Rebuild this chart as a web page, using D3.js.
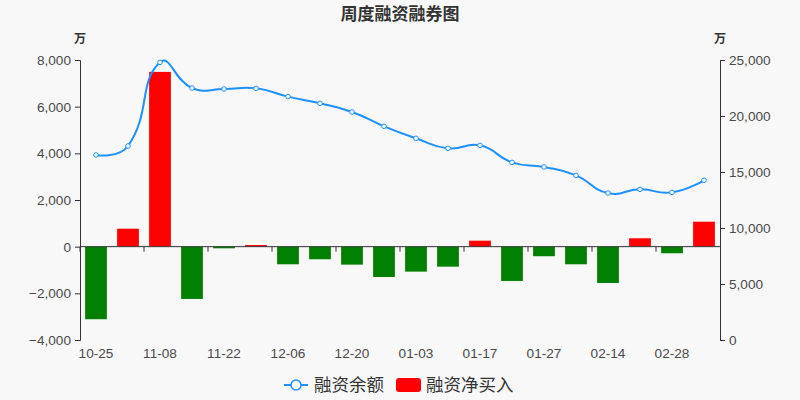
<!DOCTYPE html>
<html><head><meta charset="utf-8">
<script src="https://cdn.jsdelivr.net/npm/d3@7/dist/d3.min.js"></script>
<style>
html,body{margin:0;padding:0;background:#f8f8f8;}
svg{display:block;font-family:"Liberation Sans","Noto Sans CJK SC",sans-serif;}
</style></head>
<body><svg id="chart" width="800" height="400"></svg>
<script>
const categories = ["10-25","11-01","11-08","11-15","11-22","11-29","12-06","12-13","12-20","12-27","01-03","01-10","01-17","01-24","01-27","02-07","02-14","02-21","02-28","03-07"];
const netBuy = [-3110, 770, 7490, -2240, -70, 70, -755, -540, -770, -1300, -1070, -857, 257, -1470, -410, -755, -1556, 360, -283, 1070];
const balance = [16520, 17320, 24790, 22500, 22410, 22470, 21730, 21130, 20360, 19080, 18010, 17110, 17380, 15860, 15450, 14700, 13120, 13450, 13180, 14260];
const leftTicks = [-4000, -2000, 0, 2000, 4000, 6000, 8000];
const rightTicks = [0, 5000, 10000, 15000, 20000, 25000];
const titleText = "周度融资融券图";
const seriesNames = ["融资余额", "融资净买入"];
const unitText = "万";

const svg = d3.select("#chart");
const L = 80, R = 720, T = 60, B = 340;
const fmt = d3.format(",");

const x = d3.scaleBand().domain(categories).range([L, R]).paddingInner(0.32).paddingOuter(0.16);
const xs = d3.scaleBand().domain(categories).range([L, R]);
const yL = d3.scaleLinear().domain([-4000, 8000]).range([B, T]);
const yR = d3.scaleLinear().domain([0, 25000]).range([B, T]);

// title
svg.append("text").attr("x", 400).attr("y", 20).attr("text-anchor", "middle")
  .attr("font-size", 17).attr("font-weight", "bold").attr("fill", "#333")
  .attr("font-family", "Noto Sans CJK SC").text(titleText);

// units
[L, R].forEach(px => svg.append("text").attr("x", px).attr("y", 43).attr("text-anchor", "middle")
  .attr("font-size", 12).attr("font-weight", "bold").attr("fill", "#333")
  .attr("font-family", "Noto Sans CJK SC").text(unitText));

// bars
svg.append("g").selectAll("rect").data(netBuy).join("rect")
  .attr("x", (d, i) => x(categories[i]))
  .attr("width", x.bandwidth())
  .attr("y", d => yL(Math.max(0, d)))
  .attr("height", d => Math.abs(yL(d) - yL(0)))
  .attr("fill", d => d >= 0 ? "#ff0000" : "#008000");

// left axis
const gl = svg.append("g").attr("transform", `translate(${L},0)`)
  .call(d3.axisLeft(yL).tickValues(leftTicks).tickFormat(fmt).tickSizeOuter(0).tickSize(5).tickPadding(4));
// right axis
const gr = svg.append("g").attr("transform", `translate(${R},0)`)
  .call(d3.axisRight(yR).tickValues(rightTicks).tickFormat(fmt).tickSizeOuter(0).tickSize(5).tickPadding(4));
[gl, gr].forEach(g => {
  g.selectAll("path,line").attr("stroke", "#333");
  g.selectAll("text").attr("fill", "#4a4a4a").attr("font-size", 13.6).attr("font-family", "Liberation Sans");
});

// x axis line at zero
const y0 = yL(0);
svg.append("line").attr("x1", L).attr("x2", R).attr("y1", y0).attr("y2", y0).attr("stroke", "#333");
const labelIdx = categories.map((c, i) => i).filter(i => i % 2 === 0);
svg.append("g").selectAll("line").data(labelIdx).join("line")
  .attr("x1", i => xs(categories[i])).attr("x2", i => xs(categories[i]))
  .attr("y1", y0).attr("y2", y0 + 5).attr("stroke", "#333");
svg.append("g").selectAll("text").data(labelIdx).join("text")
  .attr("x", i => xs(categories[i]) + xs.bandwidth() / 2).attr("y", 357.5)
  .attr("text-anchor", "middle").attr("font-size", 13.6).attr("fill", "#4a4a4a")
  .attr("font-family", "Liberation Sans").text(i => categories[i]);

// smooth line (echarts-like smoothing)
const pts = balance.map((v, i) => [xs(categories[i]) + xs.bandwidth() / 2, yR(v)]);
function smoothPath(p, s) {
  let d = `M${p[0][0]},${p[0][1]}`;
  const cps = p.map((pt, i) => {
    if (i === 0 || i === p.length - 1) return [pt, pt];
    const prev = p[i - 1], next = p[i + 1];
    const vx = next[0] - prev[0], vy = next[1] - prev[1];
    const l0 = Math.hypot(pt[0] - prev[0], pt[1] - prev[1]);
    const l1 = Math.hypot(next[0] - pt[0], next[1] - pt[1]);
    const r = l1 / (l0 + l1);
    return [[pt[0] - vx * s * (1 - r), pt[1] - vy * s * (1 - r)], [pt[0] + vx * s * r, pt[1] + vy * s * r]];
  });
  for (let i = 1; i < p.length; i++) {
    const c1 = cps[i - 1][1], c2 = cps[i][0];
    d += `C${c1[0]},${c1[1]} ${c2[0]},${c2[1]} ${p[i][0]},${p[i][1]}`;
  }
  return d;
}
svg.append("path").attr("d", smoothPath(pts, 0.5)).attr("fill", "none")
  .attr("stroke", "#1e90ff").attr("stroke-width", 2);
svg.append("g").selectAll("circle").data(pts).join("circle")
  .attr("cx", d => d[0]).attr("cy", d => d[1]).attr("r", 2.3)
  .attr("fill", "#fff").attr("stroke", "#1e90ff").attr("stroke-width", 1);

// legend
const lg = svg.append("g");
lg.append("line").attr("x1", 284).attr("x2", 308).attr("y1", 385).attr("y2", 385).attr("stroke", "#1e90ff").attr("stroke-width", 2);
lg.append("circle").attr("cx", 296).attr("cy", 385).attr("r", 5).attr("fill", "#fff").attr("stroke", "#1e90ff").attr("stroke-width", 1.5);
lg.append("text").attr("x", 314).attr("y", 391).attr("font-size", 17.5).attr("fill", "#333")
  .attr("font-family", "Noto Sans CJK SC").text(seriesNames[0]);
lg.append("rect").attr("x", 396).attr("y", 378).attr("width", 25).attr("height", 14).attr("rx", 3).attr("fill", "#ff0000");
lg.append("text").attr("x", 426).attr("y", 391).attr("font-size", 17.5).attr("fill", "#333")
  .attr("font-family", "Noto Sans CJK SC").text(seriesNames[1]);
</script></body></html>
